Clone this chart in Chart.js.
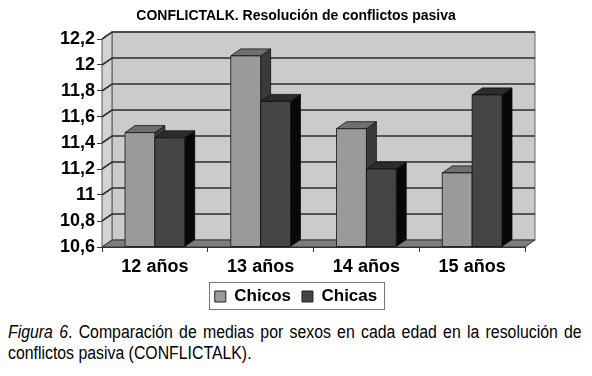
<!DOCTYPE html>
<html><head><meta charset="utf-8">
<script src="https://cdn.jsdelivr.net/npm/chart.js@4"></script>
<style>
html,body{margin:0;padding:0;background:#fff;}
#wrap{position:relative;width:592px;height:376px;overflow:hidden;background:#fff;}
#c{position:absolute;left:0;top:0;}
.cap{position:absolute;left:8px;font-family:"Liberation Sans",Arial,sans-serif;font-size:18px;line-height:21px;color:#000;white-space:nowrap;transform:scaleX(0.88);transform-origin:0 0;}
#l1{top:322px;width:652px;display:flex;justify-content:space-between;}
#l2{top:343px;}
</style></head>
<body><div id="wrap"><canvas id="c" width="592" height="316"></canvas>
<div class="cap" id="l1"></div>
<div class="cap" id="l2">conflictos pasiva (CONFLICTALK).</div>
</div>
<script>
const categories = ['12 años', '13 años', '14 años', '15 años'];
const seriesNames = ['Chicos', 'Chicas'];
const chicos = [11.48, 12.07, 11.51, 11.17];
const chicas = [11.44, 11.72, 11.20, 11.77];
const yMin = 10.6, yMax = 12.2, yStep = 0.2;
const chartTitle = 'CONFLICTALK. Resolución de conflictos pasiva';
const captionLine1 = 'Comparación de medias por sexos en cada edad en la resolución de';

(function () {
  const l1 = document.getElementById('l1');
  const first = document.createElement('span');
  first.innerHTML = '<i>Figura</i>';
  l1.appendChild(first);
  const six = document.createElement('span');
  six.innerHTML = '<i>6</i>.';
  l1.appendChild(six);
  captionLine1.split(' ').forEach(w => {
    const s = document.createElement('span');
    s.textContent = w;
    l1.appendChild(s);
  });
})();

const DX = 10, DY = -7;
const faces = [
  {front: '#9a9a9a', top: '#707070', side: '#3a3a3a'},
  {front: '#454545', top: '#2c2c2c', side: '#080808'}
];
const FONT = "'Liberation Sans', Arial, sans-serif";

function poly(ctx, pts, fill, stroke, lw) {
  ctx.beginPath();
  ctx.moveTo(pts[0][0], pts[0][1]);
  for (let i = 1; i < pts.length; i++) ctx.lineTo(pts[i][0], pts[i][1]);
  ctx.closePath();
  if (fill) { ctx.fillStyle = fill; ctx.fill(); }
  if (stroke) { ctx.strokeStyle = stroke; ctx.lineWidth = lw || 1; ctx.stroke(); }
}

const box3d = {
  id: 'box3d',
  beforeDatasetsDraw(chart) {
    const {ctx, chartArea: a, scales: {y}} = chart;
    ctx.save();
    ctx.fillStyle = '#cbcbcb';
    ctx.fillRect(a.left + DX, a.top + DY, a.right - a.left, a.bottom - a.top);
    ctx.strokeStyle = '#6a6a6a'; ctx.lineWidth = 1;
    ctx.strokeRect(a.left + DX, a.top + DY, a.right - a.left, a.bottom - a.top);
    poly(ctx, [[a.left, a.top], [a.left + DX, a.top + DY], [a.left + DX, a.bottom + DY], [a.left, a.bottom]], '#d3d3d3', '#555', 1);
    ctx.strokeStyle = '#2e2e2e'; ctx.lineWidth = 1.6;
    y.ticks.forEach(t => {
      if (t.value <= yMin + 1e-9) return;
      const py = y.getPixelForValue(t.value);
      ctx.beginPath();
      ctx.moveTo(a.left, py);
      ctx.lineTo(a.left + DX, py + DY);
      ctx.lineTo(a.right + DX, py + DY);
      ctx.stroke();
    });
    poly(ctx, [[a.left, a.bottom], [a.left + DX, a.bottom + DY], [a.right + DX, a.bottom + DY], [a.right, a.bottom]], '#7c7c7c', '#333', 1);

    ctx.lineJoin = 'round';
    for (let d = 0; d < chart.data.datasets.length; d++) {
      const meta = chart.getDatasetMeta(d);
      const f = faces[d];
      meta.data.forEach(bar => {
        const l = bar.x - bar.width / 2, r = bar.x + bar.width / 2, t = bar.y;
        const b = Math.min(bar.base, a.bottom);
        poly(ctx, [[r, t], [r + DX, t + DY], [r + DX, b + DY], [r, b]], f.side, '#111', 0.8);
        poly(ctx, [[l, t], [r, t], [r + DX, t + DY], [l + DX, t + DY]], f.top, '#111', 0.8);
        poly(ctx, [[l, t], [r, t], [r, b], [l, b]], f.front, '#111', 0.8);
      });
    }
    ctx.restore();
    return false;
  },
  afterDraw(chart) {
    const lg = chart.legend;
    if (!lg || !lg.legendHitBoxes || !lg.legendHitBoxes.length) return;
    const hb = lg.legendHitBoxes;
    const first = hb[0], last = hb[hb.length - 1];
    const ctx = chart.ctx;
    ctx.save();
    ctx.strokeStyle = '#777'; ctx.lineWidth = 1;
    const x0 = Math.round(first.left - 6) + 0.5, x1 = Math.round(last.left + last.width + 7) + 0.5;
    const y0 = Math.round(first.top - 6) + 0.5, y1 = Math.round(first.top + first.height + 4) + 0.5;
    ctx.strokeRect(x0, y0, x1 - x0, y1 - y0);
    ctx.restore();
  }
};

new Chart(document.getElementById('c'), {
  type: 'bar',
  data: {
    labels: categories,
    datasets: [
      {label: seriesNames[0], data: chicos, base: yMin, backgroundColor: faces[0].front, borderColor: '#222', borderWidth: 1},
      {label: seriesNames[1], data: chicas, base: yMin, backgroundColor: faces[1].front, borderColor: '#222', borderWidth: 1}
    ]
  },
  options: {
    responsive: false,
    animation: false,
    devicePixelRatio: 1,
    layout: {padding: {left: 0, right: 0, top: 0, bottom: 1}},
    datasets: {bar: {categoryPercentage: 0.565, barPercentage: 1}},
    plugins: {
      title: {
        display: true, text: chartTitle, color: '#000',
        font: {family: FONT, size: 14, weight: 'bold', lineHeight: 1.2},
        padding: {top: 7.6, bottom: 14.6}
      },
      legend: {
        display: true, position: 'bottom',
        labels: {
          color: '#000', boxWidth: 11, boxHeight: 11, padding: 11,
          font: {family: FONT, size: 17, weight: 'bold'}
        }
      },
      tooltip: {enabled: false}
    },
    scales: {
      x: {
        grid: {display: true, drawOnChartArea: false, drawTicks: true, tickLength: 5, color: '#333', offset: true},
        border: {display: true, color: '#333'},
        ticks: {color: '#000', padding: 4, font: {family: FONT, size: 18, weight: 'bold'}, maxRotation: 0},
        afterFit(s) { s.height = 30; }
      },
      y: {
        position: 'left', min: yMin, max: yMax,
        grid: {display: true, drawOnChartArea: false, drawTicks: true, tickLength: 5, color: '#333'},
        border: {display: true, color: '#333'},
        ticks: {
          stepSize: yStep, color: '#000', padding: 2,
          font: {family: FONT, size: 18, weight: 'bold'},
          callback: v => String(Math.round(v * 10) / 10).replace('.', ',')
        },
        afterFit(s) { s.width = 102; }
      },
      yR: {
        position: 'right', min: yMin, max: yMax, display: true,
        grid: {display: false}, border: {display: false}, ticks: {display: false},
        afterFit(s) { s.width = 67; }
      }
    }
  },
  plugins: [box3d]
});
</script>
</body></html>
